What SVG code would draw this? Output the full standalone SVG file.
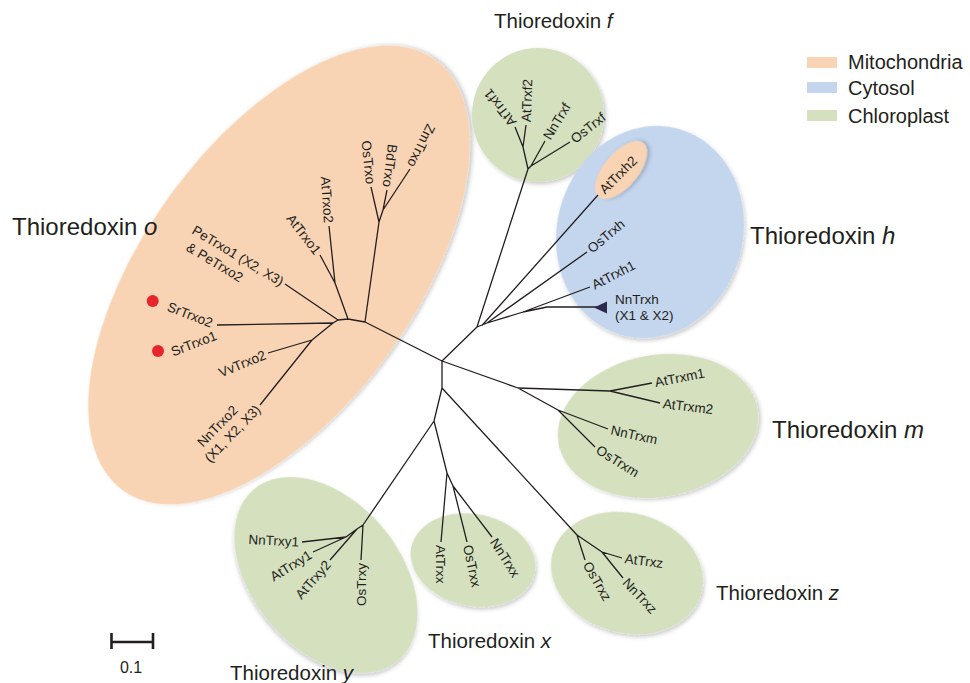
<svg xmlns="http://www.w3.org/2000/svg" width="970" height="683" viewBox="0 0 970 683">
<defs>
<filter id="sh" x="-10%" y="-10%" width="125%" height="125%">
<feDropShadow dx="2" dy="2" stdDeviation="2" flood-color="#000" flood-opacity="0.22"/>
</filter>
<style>
.mito{fill:#f9d4b4;filter:url(#sh)}
.cyto{fill:#c4d5ee;filter:url(#sh)}
.chlo{fill:#d5e0bf;filter:url(#sh)}
.br{fill:none;stroke:#231f20;stroke-width:1.3;stroke-linejoin:round}
text{font-family:"Liberation Sans",Arial,sans-serif;fill:#231f20}
.lf{font-size:13.5px}
.ti{font-size:20.5px}
.tb{font-size:24px}
.lg{font-size:20px}
</style>
</defs>
<rect width="970" height="683" fill="#fff"/>

<g id="cluster-o">
<ellipse class="mito" cx="279" cy="275" rx="266" ry="135" transform="rotate(-54 279 275)"/>
<text class="tb" x="12" y="235">Thioredoxin <tspan font-style="italic">o</tspan></text>
</g>
<g id="cluster-f">
<ellipse class="chlo" cx="538" cy="115" rx="66" ry="67"/>
<text class="ti" x="494" y="28">Thioredoxin <tspan font-style="italic">f</tspan></text>
</g>
<g id="cluster-h">
<ellipse class="cyto" cx="650" cy="232" rx="93" ry="107" transform="rotate(15 650 232)"/>
<ellipse class="mito" cx="621" cy="170" rx="35" ry="17" transform="rotate(-50 621 170)"/>
<text class="tb" x="750" y="244">Thioredoxin <tspan font-style="italic">h</tspan></text>
</g>
<g id="cluster-m">
<ellipse class="chlo" cx="658" cy="426" rx="101" ry="71" transform="rotate(-10 658 426)"/>
<text class="tb" x="772" y="438">Thioredoxin <tspan font-style="italic">m</tspan></text>
</g>
<g id="cluster-z">
<ellipse class="chlo" cx="627" cy="573" rx="77" ry="60" transform="rotate(15 627 573)"/>
<text class="ti" x="716" y="600">Thioredoxin <tspan font-style="italic">z</tspan></text>
</g>
<g id="cluster-x">
<ellipse class="chlo" cx="473" cy="560" rx="63" ry="46" transform="rotate(12 473 560)"/>
<text class="ti" x="428" y="648">Thioredoxin <tspan font-style="italic">x</tspan></text>
</g>
<g id="cluster-y">
<ellipse class="chlo" cx="326" cy="575" rx="112" ry="74" transform="rotate(50 326 575)"/>
<text class="ti" x="230" y="680">Thioredoxin <tspan font-style="italic">y</tspan></text>
</g>

<g id="connectors">
<path class="br" d="M442 361 L477 327 M442 361 L365 322 M442 361 L442 388 M442 361 L518 388
M477 327 L528 169 M528 169 L523 147 L515 127 M523 147 L526 125 M528 169 L531 166 L545 141 M531 166 L570 142
M477 327 L487 323 L523 312 L547 307 L597 307 M482 325.5 L598 195 M487 323 L587 252 M523 312 L590 287
M518 388 L610 391 L652 383 M610 391 L660 403 M518 388 L558 410 L608 429 M558 410 L595 447
M442 388 L434 421 L363 525 M434 421 L447 473 L441 542 M447 473 L453 486 L467 542 M453 486 L492 537
M442 388 L577 535 L585 560 M577 535 L602 552 L622 558 M602 552 L623 578
M363 525 L361 560 M363 525 L357 529 L330 560 M357 529 L346 537 L313 552 M346 537 L302 542
M365 322 L379 222 L371 187 M379 222 L383 210 L387 190 M383 210 L410 169
M365 322 L348 319 L338 320 L333 323 L312 340 L260 405 M348 319 L335 283 L329 226 M335 283 L320 255
M338 320 L285 284 M333 323 L217 325 M312 340 L268 353"/>
<polygon points="594,307.5 607,301.5 607,313.5" fill="#2e2a4d"/>
</g>

<g id="leaves-o" class="lf">
<text transform="translate(410,169) rotate(116)" x="-3" dy="0.35em" text-anchor="end">ZmTrxo</text>
<text transform="translate(387,190) rotate(97)" x="-3" dy="0.35em" text-anchor="end">BdTrxo</text>
<text transform="translate(371,187) rotate(84)" x="-3" dy="0.35em" text-anchor="end">OsTrxo</text>
<text transform="translate(329,226) rotate(86)" x="-3" dy="0.35em" text-anchor="end">AtTrxo2</text>
<text transform="translate(320,255) rotate(52)" x="-3" dy="0.35em" text-anchor="end">AtTrxo1</text>
<g transform="translate(285,284) rotate(31)">
<text x="-3" dy="0.35em" text-anchor="end">PeTrxo1 (X2, X3)</text>
<text x="-103" y="17.5" dy="0.35em">&amp; PeTrxo2</text>
</g>
<text transform="translate(217,325) rotate(21)" x="-5" dy="0.35em" text-anchor="end">SrTrxo2</text>
<text transform="translate(216,335) rotate(-21)" x="0" dy="0.35em" text-anchor="end">SrTrxo1</text>
<text transform="translate(268,353) rotate(-22.5)" x="-3" dy="0.35em" text-anchor="end">VvTrxo2</text>
<g transform="translate(260,405) rotate(-46)">
<text x="-19" y="-16" dy="0.35em" text-anchor="end">NnTrxo2</text>
<text x="-3" dy="0.35em" text-anchor="end">(X1, X2, X3)</text>
</g>
<circle cx="152.7" cy="301" r="6" fill="#e8252a"/>
<circle cx="158" cy="351" r="6" fill="#e8252a"/>
</g>

<g id="leaves-f" class="lf">
<text transform="translate(515,127) rotate(-128)" x="3" dy="0.35em">AtTrxf1</text>
<text transform="translate(526,125) rotate(-88)" x="3" dy="0.35em">AtTrxf2</text>
<text transform="translate(545,141) rotate(-59)" x="3" dy="0.35em">NnTrxf</text>
<text transform="translate(570,142) rotate(-38)" x="3" dy="0.35em">OsTrxf</text>
</g>
<g id="leaves-h" class="lf">
<text transform="translate(598,195) rotate(-45)" x="5" dy="0.35em">AtTrxh2</text>
<text transform="translate(587,252) rotate(-40)" x="3" dy="0.35em">OsTrxh</text>
<text transform="translate(590,287) rotate(-27.5)" x="3" dy="0.35em">AtTrxh1</text>
<text x="615" y="304">NnTrxh</text>
<text x="615" y="320">(X1 &amp; X2)</text>
</g>
<g id="leaves-m" class="lf">
<text transform="translate(652,383) rotate(-11)" x="3" dy="0.35em">AtTrxm1</text>
<text transform="translate(660,403) rotate(7)" x="3" dy="0.35em">AtTrxm2</text>
<text transform="translate(608,429) rotate(12.5)" x="3" dy="0.35em">NnTrxm</text>
<text transform="translate(595,447) rotate(32)" x="3" dy="0.35em">OsTrxm</text>
</g>
<g id="leaves-x" class="lf">
<text transform="translate(441,542) rotate(90)" x="3" dy="0.35em">AtTrxx</text>
<text transform="translate(467,542) rotate(78)" x="3" dy="0.35em">OsTrxx</text>
<text transform="translate(492,537) rotate(57.5)" x="3" dy="0.35em">NnTrxx</text>
</g>
<g id="leaves-y" class="lf">
<text transform="translate(302,542) rotate(3)" x="-3" dy="0.35em" text-anchor="end">NnTrxy1</text>
<text transform="translate(313,552) rotate(-31.6)" x="-3" dy="0.35em" text-anchor="end">AtTrxy1</text>
<text transform="translate(330,560) rotate(-49)" x="-3" dy="0.35em" text-anchor="end">AtTrxy2</text>
<text transform="translate(361,560) rotate(-90)" x="-3" dy="0.35em" text-anchor="end">OsTrxy</text>
</g>
<g id="leaves-z" class="lf">
<text transform="translate(622,558) rotate(7.4)" x="3" dy="0.35em">AtTrxz</text>
<text transform="translate(623,578) rotate(46.5)" x="3" dy="0.35em">NnTrxz</text>
<text transform="translate(585,560) rotate(60)" x="3" dy="0.35em">OsTrxz</text>
</g>

<g id="legend">
<rect x="807" y="57" width="30" height="11" fill="#f9d4b4"/>
<rect x="807" y="82" width="30" height="11" fill="#c4d5ee"/>
<rect x="807" y="110" width="30" height="11" fill="#d5e0bf"/>
<text class="lg" x="848" y="69">Mitochondria</text>
<text class="lg" x="848" y="95">Cytosol</text>
<text class="lg" x="848" y="123">Chloroplast</text>
</g>

<g id="scale">
<path d="M111.5 642 H153 M111.5 633 V649 M153 633 V649" fill="none" stroke="#231f20" stroke-width="2.6"/>
<text x="131" y="673" font-size="16px" text-anchor="middle">0.1</text>
</g>
</svg>
